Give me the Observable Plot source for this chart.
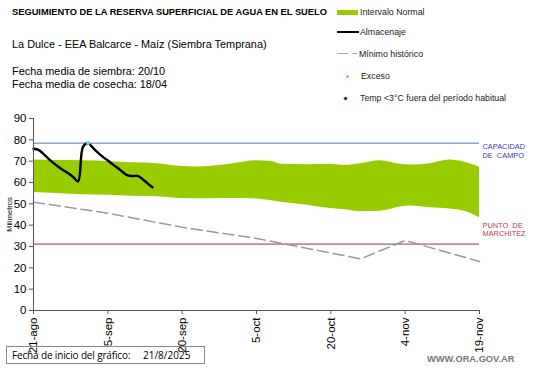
<!DOCTYPE html>
<html><head><meta charset="utf-8">
<script src="https://cdn.jsdelivr.net/npm/d3@7"></script>
<script src="https://cdn.jsdelivr.net/npm/@observablehq/plot@0.6"></script>
<style>
body{margin:0;background:#fff;font-family:"Liberation Sans",Arial,sans-serif;}
#wrap{position:relative;width:541px;height:368px;overflow:hidden;}
.t{position:absolute;white-space:nowrap;color:#000;}
</style></head><body>
<div id="wrap"></div>
<script>
// Day offsets from 21-ago-2025
const tickDays = [0, 15, 30, 45, 60, 75, 90];
const tickLabels = ["21-ago", "5-sep", "20-sep", "5-oct", "20-oct", "4-nov", "19-nov"];

// Intervalo normal (band)
const bandDays = [0, 5, 10, 15, 20, 25, 30, 33, 36, 40, 45, 48, 50, 55, 60, 63, 66, 70, 74, 76, 80, 84, 87, 90];
const bandHi   = [70.6, 70.3, 70.2, 69.9, 69.2, 68.8, 67.5, 67.3, 67.6, 68.7, 70.2, 69.8, 68.5, 68.3, 68.6, 68.0, 68.8, 70.2, 68.5, 68.2, 68.8, 70.5, 69.5, 67.2];
const bandLo   = [55.3, 54.8, 54.2, 54.0, 53.6, 53.3, 52.5, 52.4, 52.4, 52.5, 52.3, 51.5, 50.8, 49.5, 47.8, 47.2, 46.3, 46.5, 48.5, 49.0, 48.2, 47.6, 46.5, 43.5];

// Almacenaje
const almDays = [0, 1, 2, 3, 4, 5, 6, 7, 8, 9, 10, 11, 12, 13, 14, 15, 16, 17, 18, 19, 20, 21, 22, 23, 24];
const almVals = [75.8, 75.3, 73.4, 71.2, 69.2, 67.4, 65.8, 64.3, 62.6, 60.5, 76.8, 78.4, 76.2, 74.0, 72.0, 70.3, 68.5, 66.8, 64.9, 63.3, 63.0, 63.1, 61.6, 59.6, 57.8];

// Mínimo histórico
const minDays = [0, 15, 30, 45, 66, 75, 90];
const minVals = [50.8, 45.6, 39.0, 33.8, 24.2, 32.8, 23.0];

// Exceso
const excesoDays = [11];
const excesoVals = [78.4];

const capacidad = 78.4;
const marchitez = 31.1;

const band = bandDays.map((d, i) => ({d, hi: bandHi[i], lo: bandLo[i]}));
const alm = almDays.map((d, i) => ({d, v: almVals[i]}));
const mins = minDays.map((d, i) => ({d, v: minVals[i]}));
const exc = excesoDays.map((d, i) => ({d, v: excesoVals[i]}));

const lblStyle = {x: 90, textAnchor: "start", fontSize: 7.4, dx: 3};

const chart = Plot.plot({
  width: 541, height: 368,
  marginTop: 118, marginBottom: 58, marginLeft: 33, marginRight: 62,
  style: {fontFamily: "Liberation Sans, Arial, sans-serif", background: "transparent", overflow: "visible"},
  x: {domain: [0, 90]},
  y: {domain: [0, 90]},
  marks: [
    Plot.areaY(band, {x: "d", y1: "lo", y2: "hi", fill: "#99CC00", curve: "monotone-x"}),
    Plot.ruleY([capacidad], {stroke: "#8FA5D3", strokeWidth: 1.6}),
    Plot.ruleY([marchitez], {stroke: "#C28A92", strokeWidth: 1.6}),
    Plot.line(mins, {x: "d", y: "v", stroke: "#999", strokeWidth: 1.5, strokeDasharray: "11,5"}),
    Plot.line(alm, {x: "d", y: "v", stroke: "#000", strokeWidth: 2.4, curve: "catmull-rom"}),
    Plot.dot(exc, {x: "d", y: "v", r: 2, fill: "#4FD0E8", stroke: "none"}),
    Plot.ruleX([0], {stroke: "#555", strokeWidth: 1}),
    Plot.ruleY([0], {stroke: "#555", strokeWidth: 1}),
    Plot.axisY({ticks: d3.range(0, 91, 10), tickSize: 4, tickPadding: 3, fontSize: 11.5, stroke: "#555",
      label: "Milímetros", labelAnchor: "center", labelArrow: "none", labelOffset: 27, tickFormat: d => d}),
    Plot.axisX({ticks: tickDays, tickSize: 4, tickRotate: -90, tickPadding: 3, fontSize: 11.5, stroke: "#555",
      tickFormat: d => tickLabels[tickDays.indexOf(d)], label: null}),
    Plot.text(["CAPACIDAD"], {...lblStyle, y: capacidad, dy: 3, fill: "#3A3AA8"}),
    Plot.text(["DE  CAMPO"], {...lblStyle, y: capacidad, dy: 12.5, fill: "#3A3AA8"}),
    Plot.text(["PUNTO  DE"], {...lblStyle, y: marchitez, dy: -18.5, fill: "#C23A4E"}),
    Plot.text(["MARCHITEZ"], {...lblStyle, y: marchitez, dy: -10.5, fill: "#C23A4E"})
  ]
});
const wrap = document.getElementById("wrap");
chart.style.position = "absolute"; chart.style.left = "0"; chart.style.top = "0";
wrap.appendChild(chart);
chart.querySelectorAll("text").forEach(t => { if (t.textContent === "Milímetros") { t.setAttribute("font-size", "7.5"); } });

function addText(txt, x, y, css) {
  const el = document.createElement("div");
  el.className = "t"; el.textContent = txt;
  el.style.left = x + "px"; el.style.top = y + "px";
  Object.assign(el.style, css || {});
  wrap.appendChild(el); return el;
}
function addBox(x, y, w, h, css) {
  const el = document.createElement("div");
  Object.assign(el.style, {position: "absolute", left: x + "px", top: y + "px", width: w + "px", height: h + "px"}, css);
  wrap.appendChild(el); return el;
}
addText("SEGUIMIENTO DE LA RESERVA SUPERFICIAL DE AGUA EN EL SUELO", 12, 7, {fontSize: "9.3px", fontWeight: "bold"});
addText("La Dulce - EEA Balcarce - Maíz (Siembra Temprana)", 12, 38, {fontSize: "10.9px"});
addText("Fecha media de siembra: 20/10", 12, 65, {fontSize: "10.9px", lineHeight: "13px"});
addText("Fecha media de cosecha: 18/04", 12, 78, {fontSize: "10.9px", lineHeight: "13px"});

// legend
const lg = {fontSize: "8.8px", color: "#222"};
addBox(337, 10, 21, 5, {background: "#99CC00"});
addText("Intervalo Normal", 360, 7, lg);
addBox(337, 31, 22, 2, {background: "#000"});
addText("Almacenaje", 360, 27, lg);
addBox(337, 53, 11, 1, {background: "#aaa"});
addBox(352, 53, 5, 1, {background: "#aaa"});
addText("Mínimo histórico", 359, 49, lg);
addBox(346, 75, 3, 3, {background: "#4FD0E8", borderRadius: "50%"});
addText("Exceso", 361, 71, lg);
addBox(344, 97, 3, 3, {background: "#1A1AA0", transform: "rotate(45deg)"});
addText("Temp <3°C fuera del período habitual", 360, 93, lg);

// bottom box
addBox(6, 346, 199, 18, {border: "1px solid #888", boxSizing: "border-box"});
addText("Fecha de inicio del gráfico:", 12, 348, {fontSize: "10px", fontFamily: "'Open Sans', sans-serif", letterSpacing: "-0.15px"});
addText("21/8/2025", 143, 348, {fontSize: "10px", fontFamily: "'Open Sans', sans-serif"});
addText("WWW.ORA.GOV.AR", 427, 354, {fontSize: "9.3px", fontWeight: "bold", color: "#777"});
</script>
</body></html>
